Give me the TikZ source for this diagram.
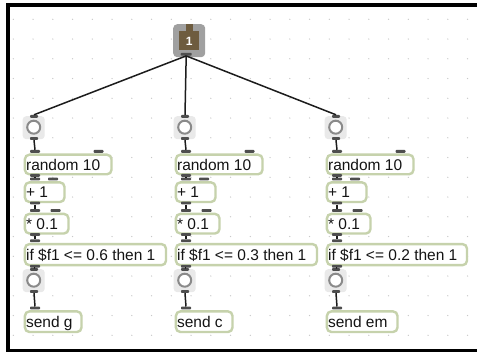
\documentclass[tikz,border=0pt]{standalone}
\usepackage{fontspec}
\setmainfont{Liberation Sans}
\definecolor{objc}{RGB}{198,210,172}
\definecolor{portc}{RGB}{78,78,78}
\definecolor{cordc}{RGB}{28,28,28}
\definecolor{bangbgc}{RGB}{233,233,233}
\definecolor{bangcc}{RGB}{138,138,138}
\definecolor{msgout}{RGB}{160,160,160}
\definecolor{msgin}{RGB}{110,92,63}
\definecolor{dotc}{RGB}{200,200,200}
\definecolor{txtc}{RGB}{20,20,20}
\newcommand\pdobj[6]{%
  \node[objbox, minimum width={#4-2.4}, minimum height={#5-2.4}] (#1) at (#2+1.2,#3+1.2) {};
  \node[objtext] (#1t) at ([xshift=2.2pt,yshift=-5.6pt]#1.west) {#6};
}
\begin{document}
\begin{tikzpicture}[x=1pt,y=-1pt,
  objbox/.style={draw=objc, line width=2.4pt, rounded corners=4.5pt, fill=white, inner sep=0, anchor=north west},
  objtext/.style={font=\fontsize{15.5}{16}\selectfont, text=txtc, anchor=base west, inner sep=0},
  port/.style={fill=portc, inner sep=0, minimum width=10, minimum height=2.8, rounded corners=0.8pt},
  cord/.style={draw=cordc, line width=1.5pt},
  bangbg/.style={fill=bangbgc, rounded corners=3.5pt, inner sep=0, minimum width=22, minimum height=23, anchor=north west},
  bangc/.style={circle, draw=bangcc, line width=2pt, fill=white, minimum size=13, inner sep=0}
]
\useasboundingbox (0,0) rectangle (477,352);
\fill[white] (0,0) rectangle (477,352);
% grid dots
\foreach \i in {0,...,23}{
  \foreach \j in {0,...,16}{
    \fill[dotc] (13.3+\i*19.75,19.3+\j*19.75) circle (0.7pt);
  }
}
% frame
\fill[black] (6,3) rectangle (477,7.3);
\fill[black] (6,3) rectangle (10,352);
\fill[black] (6,349) rectangle (477,352);
% message box
\node[fill=msgout, rounded corners=4pt, minimum width=32, minimum height=33, anchor=north west, inner sep=0] (msg) at (173,24) {};
\fill[msgin] (179.3,31) rectangle (199.3,50);
\fill[msgin] (186,24) rectangle (192.7,31.5);
\node[font=\bfseries\fontsize{12}{12}\selectfont, text=white, inner sep=0] (msgt) at (189.3,41) {1};
\node[port, minimum width=11, anchor=north] (mo) at (186.2,52.7) {};
\foreach \c/\x/\t/\s/\sw/\iw in {1/22.5/0.6/g/59/143.5, 2/173.5/0.3/c/59/143.5, 3/324.5/0.2/em/73/142.5}{
  % top bang
  \node[bangbg] (ba\c) at (\x,116) {};
  \node[bangc] (bac\c) at ([yshift=0.5pt]ba\c.center) {};
  \node[port, minimum width=8, anchor=north] (bai\c) at (\x+11.5,114.8) {};
  \node[port, minimum width=8, anchor=north] (bao\c) at (\x+11.5,137) {};
  % random
  \pdobj{r\c}{\x}{152.3}{89}{22}{random 10}
  \node[port, anchor=south] (ri\c) at (\x+12.5,153) {};
  \node[port, anchor=south] (rj\c) at (\x+76,153) {};
  \node[port, anchor=north] (ro\c) at (\x+12.5,173.8) {};
  % + 1
  \pdobj{p\c}{\x}{180}{42}{22}{+ 1}
  \node[port, anchor=south] (pi\c) at (\x+12.5,180.7) {};
  \node[port, anchor=south] (pj\c) at (\x+30.5,180.7) {};
  \node[port, anchor=north] (po\c) at (\x+12.5,201.5) {};
  % * 0.1
  \pdobj{m\c}{\x}{211.5}{46}{22}{* 0.1}
  \node[port, anchor=south] (mi\c) at (\x+12.5,212.2) {};
  \node[port, anchor=south] (mj\c) at (\x+33,212.2) {};
  \node[port, anchor=north] (mo\c) at (\x+12.5,233) {};
  % if
  \pdobj{f\c}{\x}{241.7}{\iw}{23.5}{if \$f1 <= \t\ then 1}
  \node[port, anchor=south] (fi\c) at (\x+12.5,242.4) {};
  \node[port, anchor=north] (fo\c) at (\x+12.5,264.7) {};
  % bottom bang
  \node[bangbg] (bb\c) at (\x,269) {};
  \node[bangc] (bbc\c) at ([yshift=0.5pt]bb\c.center) {};
  \node[port, minimum width=8, anchor=north] (bbi\c) at (\x+11.5,267.8) {};
  \node[port, minimum width=8, anchor=north] (bbo\c) at (\x+11.5,290) {};
  % send
  \pdobj{s\c}{\x}{309}{\sw}{23}{send \s}
  \node[port, anchor=south] (si\c) at (\x+12.5,309.7) {};
  % cords
  \draw[cord] (mo.south) -- (bai\c.north);
  \draw[cord] (bao\c.south) -- (ri\c.north);
  \draw[cord] (ro\c.south) -- (pi\c.north);
  \draw[cord] (po\c.south) -- (mi\c.north);
  \draw[cord] (mo\c.south) -- (fi\c.north);
  \draw[cord] (fo\c.south) -- (bbi\c.north);
  \draw[cord] (bbo\c.south) -- (si\c.north);
}
\end{tikzpicture}
\end{document}
